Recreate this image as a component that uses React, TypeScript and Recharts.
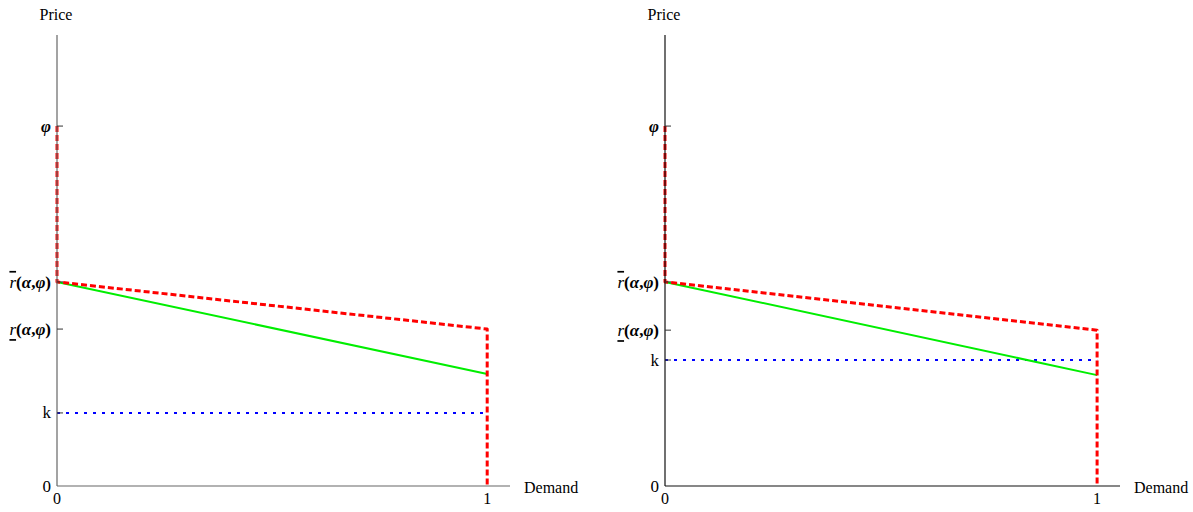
import { LineChart, Line, XAxis, YAxis, Label } from "recharts";

// tick names on the price axis (bottom to top)
const priceTickNames = ["0", "k", "rLow", "rHigh", "phi"];

// left panel: k well below r(α,φ)
const leftPriceTicks = [0, 0.203, 0.436, 0.567, 1];
const leftRedX = [0, 0, 1, 1];
const leftRedY = [1, 0.567, 0.436, 0];
const leftGreenX = [0, 1];
const leftGreenY = [0.567, 0.311];
const leftBlueX = [0, 1];
const leftBlueY = [0.203, 0.203];

// right panel: k just under r(α,φ)
const rightPriceTicks = [0, 0.35, 0.433, 0.567, 1];
const rightRedX = [0, 0, 1, 1];
const rightRedY = [1, 0.567, 0.433, 0];
const rightGreenX = [0, 1];
const rightGreenY = [0.567, 0.308];
const rightBlueX = [0, 1];
const rightBlueY = [0.35, 0.35];

const demandTicks = [0, 1];

const FONT = "'Liberation Serif', 'Times New Roman', serif";
const textStyle = { fontFamily: FONT };

const zip = (xs: number[], ys: number[]) => xs.map((x, i) => ({ x, y: ys[i] }));

function PriceTick(props: any) {
  const { x, y, payload, values } = props;
  const name = priceTickNames[values.indexOf(payload.value)];
  const ax = x + 6; // axis position
  let label: any = null;
  if (name === "0" || name === "k") {
    label = name;
  } else if (name === "phi") {
    label = (
      <tspan fontWeight="bold" fontStyle="italic">
        φ
      </tspan>
    );
  } else {
    const deco = name === "rHigh" ? "overline" : "underline";
    label = (
      <>
        <tspan fontStyle="italic" style={{ textDecoration: deco }}>
          r
        </tspan>
        <tspan fontWeight="bold">(</tspan>
        <tspan fontWeight="bold" fontStyle="italic">α</tspan>
        <tspan fontWeight="bold">,</tspan>
        <tspan fontWeight="bold" fontStyle="italic">φ</tspan>
        <tspan fontWeight="bold">)</tspan>
      </>
    );
  }
  return (
    <g>
      {name !== "0" && (
        <line x1={ax} x2={ax + 6} y1={y} y2={y} stroke="#333" strokeWidth={1} />
      )}
      <text
        x={x}
        y={y}
        textAnchor="end"
        dominantBaseline="central"
        style={textStyle}
        fontSize={17}
        fill="#000"
      >
        {label}
      </text>
    </g>
  );
}

function DemandTick(props: any) {
  const { x, y, payload } = props;
  return (
    <text
      x={x}
      y={y}
      textAnchor="middle"
      dominantBaseline="hanging"
      style={textStyle}
      fontSize={16}
      fill="#000"
    >
      {payload.value}
    </text>
  );
}

function Panel({
  width,
  rightMargin,
  priceTicks,
  red,
  green,
  blue,
  axisColor,
}: {
  width: number;
  rightMargin: number;
  priceTicks: number[];
  red: { x: number; y: number }[];
  green: { x: number; y: number }[];
  blue: { x: number; y: number }[];
  axisColor: string;
}) {
  return (
    <LineChart
      width={width}
      height={512}
      margin={{ top: 35, right: rightMargin, bottom: 0, left: 0 }}
    >
      <XAxis
        type="number"
        dataKey="x"
        domain={[0, 1.053]}
        ticks={demandTicks}
        interval={0}
        height={26}
        tickSize={0}
        tickMargin={7}
        tickLine={false}
        axisLine={{ stroke: axisColor, strokeWidth: 1.2 }}
        tick={<DemandTick />}
      >
        <Label
          content={(p: any) => {
            const vb = p.viewBox || {};
            return (
              <text
                x={(vb.x ?? 57) + (vb.width ?? 453) + 14}
                y={(vb.y ?? 486) + 1}
                dominantBaseline="central"
                style={textStyle}
                fontSize={16}
                fill="#000"
              >
                Demand
              </text>
            );
          }}
        />
      </XAxis>
      <YAxis
        type="number"
        dataKey="y"
        domain={[0, 1.253]}
        ticks={priceTicks}
        interval={0}
        width={57}
        tickSize={0}
        tickMargin={6}
        tickLine={false}
        axisLine={{ stroke: axisColor, strokeWidth: 1.2 }}
        tick={<PriceTick values={priceTicks} />}
      >
        <Label
          content={(p: any) => {
            const vb = p.viewBox || {};
            return (
              <text
                x={(vb.x ?? 0) + (vb.width ?? 57) - 1}
                y={(vb.y ?? 35) - 21}
                textAnchor="middle"
                dominantBaseline="central"
                style={textStyle}
                fontSize={16}
                fill="#000"
              >
                Price
              </text>
            );
          }}
        />
      </YAxis>
      <Line
        data={blue}
        dataKey="y"
        type="linear"
        stroke="#0000ff"
        strokeWidth={2}
        strokeDasharray="3 6"
        dot={false}
        isAnimationActive={false}
      />
      <Line
        data={green}
        dataKey="y"
        type="linear"
        stroke="#00ee00"
        strokeWidth={2}
        dot={false}
        isAnimationActive={false}
      />
      <Line
        data={red}
        dataKey="y"
        type="linear"
        stroke="#ff0000"
        strokeWidth={3}
        strokeDasharray="6 3"
        strokeLinejoin="round"
        dot={false}
        isAnimationActive={false}
      />
    </LineChart>
  );
}

export default function App() {
  return (
    <div
      style={{
        position: "absolute",
        left: 0,
        top: 0,
        width: 1193,
        height: 512,
        background: "#fff",
      }}
    >
      <div style={{ position: "absolute", left: 0, top: 0 }}>
        <Panel
          width={600}
          rightMargin={90}
          priceTicks={leftPriceTicks}
          red={zip(leftRedX, leftRedY)}
          green={zip(leftGreenX, leftGreenY)}
          blue={zip(leftBlueX, leftBlueY)}
          axisColor="#666"
        />
      </div>
      <div style={{ position: "absolute", left: 608, top: 0 }}>
        <Panel
          width={585}
          rightMargin={73}
          priceTicks={rightPriceTicks}
          red={zip(rightRedX, rightRedY)}
          green={zip(rightGreenX, rightGreenY)}
          blue={zip(rightBlueX, rightBlueY)}
          axisColor="#111"
        />
      </div>
    </div>
  );
}
